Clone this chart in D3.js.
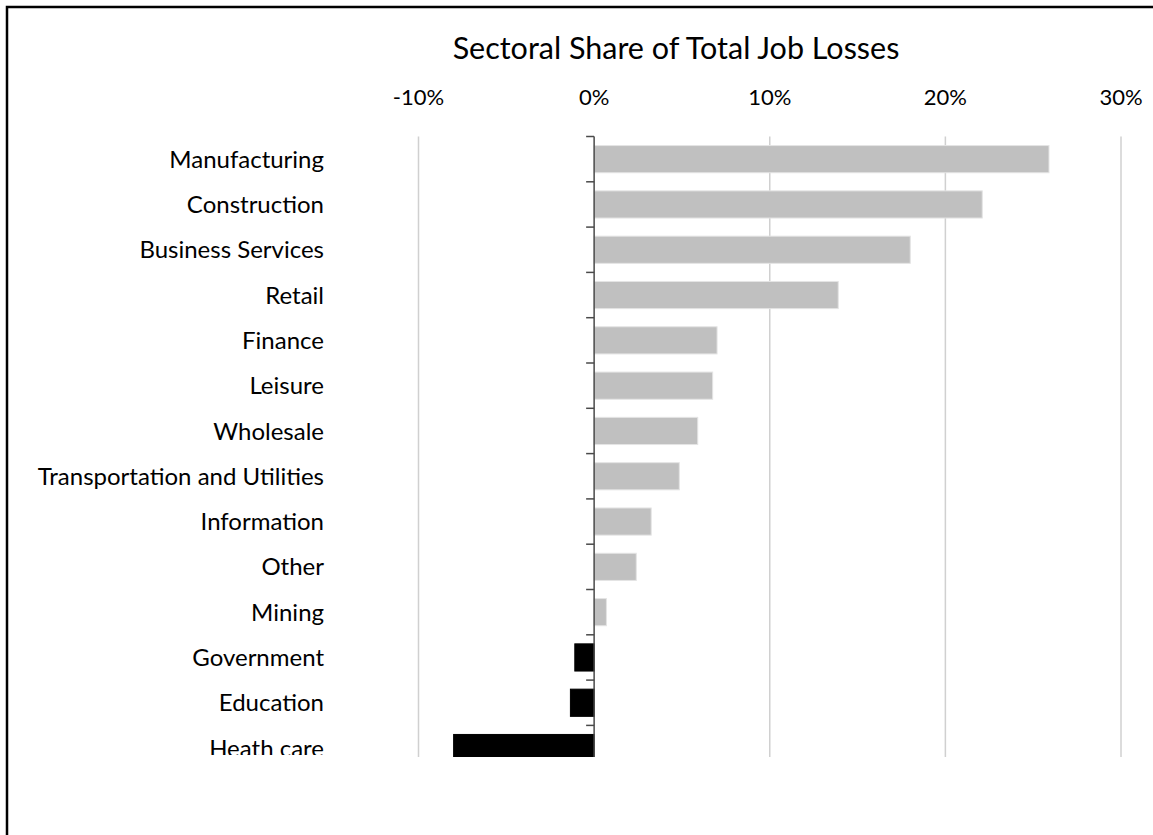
<!DOCTYPE html>
<html>
<head>
<meta charset="utf-8">
<script src="https://cdn.jsdelivr.net/npm/d3@7/dist/d3.min.js"></script>
<style>
  html, body { margin: 0; padding: 0; background: #fff; }
  svg { display: block; }
  text { font-family: "Gill Sans", "Gill Sans MT", Lato, "Open Sans", sans-serif; fill: #000; }
</style>
</head>
<body>
<svg id="chart" width="1153" height="835"></svg>
<script>
// Sector categories, top to bottom
const sectors = [
  "Manufacturing", "Construction", "Business Services", "Retail", "Finance",
  "Leisure", "Wholesale", "Transportation and Utilities", "Information",
  "Other", "Mining", "Government", "Education", "Heath care"
];
// Share of total job losses, percent
const shares = [25.9, 22.1, 18.0, 13.9, 7.0, 6.75, 5.9, 4.85, 3.25, 2.4, 0.7, -1.1, -1.35, -8.0];
// Top axis ticks, percent
const tickValues = [-10, 0, 10, 20, 30];
const title = "Sectoral Share of Total Job Losses";

const data = sectors.map((s, i) => ({ sector: s, value: shares[i] }));

const svg = d3.select("#chart");
const W = 1153, H = 835;

// Frame: left and top edges of the chart border
svg.append("path")
  .attr("d", `M7,${H} V7 H${W}`)
  .attr("fill", "none")
  .attr("stroke", "#000")
  .attr("stroke-width", 2.5);

const x = d3.scaleLinear().domain([-10, 30]).range([418.5, 1121]);
const y = d3.scaleBand().domain(sectors)
  .range([136.5, 136.5 + 45.3 * sectors.length])
  .paddingInner(0.4).paddingOuter(0.2);

// The plot and its labels are cut off at the bottom edge of the chart area
const defs = svg.append("defs");
defs.append("clipPath").attr("id", "plotclip")
  .append("rect").attr("x", 0).attr("y", 0).attr("width", W).attr("height", 757);
defs.append("clipPath").attr("id", "labelclip")
  .append("rect").attr("x", 0).attr("y", 0).attr("width", W).attr("height", 755);

const g = svg.append("g").attr("clip-path", "url(#plotclip)");

// Vertical gridlines
g.append("g").selectAll("line")
  .data(tickValues.filter(v => v !== 0))
  .join("line")
  .attr("x1", d => x(d)).attr("x2", d => x(d))
  .attr("y1", 136.5).attr("y2", y.range()[1])
  .attr("stroke", "#d0d0d0").attr("stroke-width", 1.5);

// Bars
g.append("g").selectAll("rect")
  .data(data)
  .join("rect")
  .attr("x", d => x(Math.min(0, d.value)))
  .attr("width", d => Math.abs(x(d.value) - x(0)))
  .attr("y", d => y(d.sector))
  .attr("height", y.bandwidth())
  .attr("fill", d => d.value < 0 ? "#000" : "#c0c0c0")
  .attr("stroke", d => d.value < 0 ? "#000" : "#e4e4e4")
  .attr("stroke-width", 1);

// Category axis at zero, with ticks between categories
const step = y.step();
const boundaries = d3.range(sectors.length + 1).map(i => y.range()[0] + i * step);
g.append("line")
  .attr("x1", x(0)).attr("x2", x(0))
  .attr("y1", boundaries[0]).attr("y2", y.range()[1])
  .attr("stroke", "#4a4a4a").attr("stroke-width", 1.5);
g.append("g").selectAll("line")
  .data(boundaries)
  .join("line")
  .attr("x1", x(0) - 8).attr("x2", x(0))
  .attr("y1", d => d).attr("y2", d => d)
  .attr("stroke", "#4a4a4a").attr("stroke-width", 1.5);

// Category labels
svg.append("g").attr("clip-path", "url(#labelclip)")
  .selectAll("text")
  .data(sectors)
  .join("text")
  .attr("x", 324)
  .attr("y", d => y(d) + y.bandwidth() / 2)
  .attr("dy", "0.36em")
  .attr("text-anchor", "end")
  .style("font-size", "24px")
  .text(d => d);

// Top value axis labels
svg.append("g").selectAll("text")
  .data(tickValues)
  .join("text")
  .attr("x", d => x(d))
  .attr("y", 105)
  .attr("text-anchor", "middle")
  .style("font-size", "22px")
  .text(d => d + "%");

// Title
svg.append("text")
  .attr("x", 676)
  .attr("y", 59)
  .attr("text-anchor", "middle")
  .style("font-size", "30.5px")
  .text(title);
</script>
</body>
</html>
